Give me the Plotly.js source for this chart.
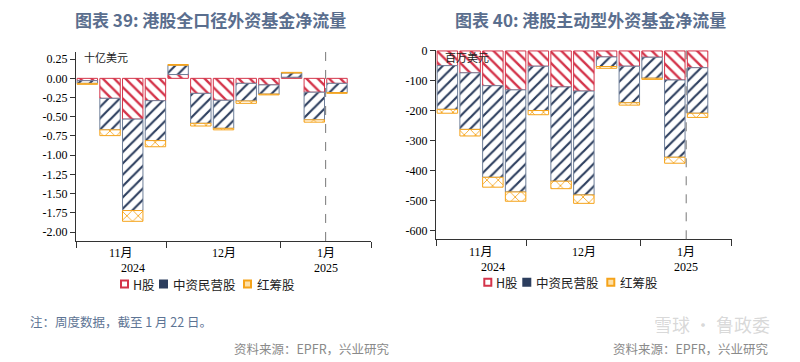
<!DOCTYPE html>
<html><head><meta charset="utf-8">
<script src="https://cdn.plot.ly/plotly-3.0.1.min.js"></script>
<style>html,body{margin:0;padding:0;background:#fff}#chart{width:800px;height:362px}</style>
</head><body><div id="chart"></div>
<script>
// ---- data ----
const weeks = [0, 1, 2, 3, 4, 5, 6, 7, 8, 9, 10, 11];
const seriesNames = ['H股', '中资民营股', '红筹股'];

// 图表39 全口径 (十亿美元)
const hAll = [-0.03, -0.26, -0.53, -0.29, 0.05, -0.195, -0.285, -0.065, -0.085, 0.015, -0.18, -0.065];
const mAll = [-0.035, -0.41, -1.19, -0.52, 0.12, -0.39, -0.365, -0.23, -0.12, 0.055, -0.36, -0.12];
const rAll = [-0.013, -0.075, -0.14, -0.08, 0.01, -0.035, -0.02, -0.03, -0.01, 0.008, -0.03, -0.01];

// 图表40 主动型 (百万美元)
const hAct = [-49, -73, -116, -130, -51, -120, -134, -20, -51, -21, -97, -56];
const mAct = [-146, -189, -306, -341, -148, -315, -347, -32, -122, -70, -258, -152];
const rAct = [-13, -22, -33, -31, -14, -25, -28, -6, -8, -4, -20, -14];

const monthLabels = ['11月', '12月', '1月'];
const monthCenters = [1.5, 6, 10.5];
const yearLabels = ['2024', '2025'];
const yearCenters = [2.0, 10.5];
const monthBounds = [-0.5, 3.5, 8.5, 12.5];
const latestDivider = 10.5;
const leftTicks = [0.25, 0, -0.25, -0.5, -0.75, -1, -1.25, -1.5, -1.75, -2];
const rightTicks = [0, -100, -200, -300, -400, -500, -600];

const titles = ['图表 39: 港股全口径外资基金净流量', '图表 40: 港股主动型外资基金净流量'];
const units = ['十亿美元', '百万美元'];
const note = '注：周度数据，截至 1 月 22 日。';
const source = '资料来源：EPFR，兴业研究';

// ---- styles ----
const RED = '#d4344a', NAVY = '#2c3e5e', NAVYLINE = '#6f7f99', ORANGE = '#f5a31a';
const serif = 'Liberation Serif, "Noto Sans CJK SC", serif';
const cjk = '"Noto Sans CJK SC", sans-serif';

function bar(name, y, color, lineColor, shape, size, sol, xa, ya) {
  return {
    type: 'bar', x: weeks, y: y, name: name, xaxis: xa, yaxis: ya, width: 0.9,
    showlegend: false, hoverinfo: 'skip',
    marker: {
      color: color, line: {color: lineColor, width: 1},
      pattern: {shape: shape, fgcolor: color, bgcolor: '#ffffff', size: size, solidity: sol, fillmode: 'replace'}
    }
  };
}

const data = [
  bar(seriesNames[0], hAll, RED, RED, '\\', 8, 0.3, 'x', 'y'),
  bar(seriesNames[1], mAll, NAVY, NAVYLINE, '/', 8, 0.27, 'x', 'y'),
  bar(seriesNames[2], rAll, ORANGE, ORANGE, 'x', 8, 0.2, 'x', 'y'),
  bar(seriesNames[0], hAct, RED, RED, '\\', 8, 0.3, 'x2', 'y2'),
  bar(seriesNames[1], mAct, NAVY, NAVYLINE, '/', 8, 0.27, 'x2', 'y2'),
  bar(seriesNames[2], rAct, ORANGE, ORANGE, 'x', 8, 0.2, 'x2', 'y2')
];

const axBase = {
  showline: true, linecolor: '#333', linewidth: 1, ticks: 'outside', tickcolor: '#333',
  showgrid: false, zeroline: false, fixedrange: true,
  tickfont: {family: serif, size: 12, color: '#000'}
};
const xBase = Object.assign({}, axBase, {
  range: [-0.5, 12.5], tickmode: 'array', tickvals: monthBounds,
  ticktext: monthBounds.map(() => ''), ticklen: 6
});
function fmtLeft(v) { return v.toFixed(2); }

const layout = {
  width: 800, height: 362, margin: {l: 0, r: 0, t: 0, b: 0},
  paper_bgcolor: '#fff', plot_bgcolor: '#fff',
  barmode: 'relative', showlegend: false,
  xaxis: Object.assign({}, xBase, {domain: [0.095, 0.4638], anchor: 'y'}),
  yaxis: Object.assign({}, axBase, {
    domain: [0.3343, 0.857], anchor: 'x', range: [-2.116, 0.346], ticklen: 5,
    tickmode: 'array', tickvals: leftTicks, ticktext: leftTicks.map(fmtLeft)
  }),
  xaxis2: Object.assign({}, xBase, {domain: [0.545, 0.9146], anchor: 'y2'}),
  yaxis2: Object.assign({}, axBase, {
    domain: [0.339, 0.862], anchor: 'x2', range: [-629, 3.3], ticklen: 5,
    tickmode: 'array', tickvals: rightTicks, ticktext: rightTicks.map(v => String(v))
  }),
  shapes: [], annotations: []
};

// dashed divider before latest week
['x', 'x2'].forEach((xa, i) => {
  layout.shapes.push({type: 'line', xref: xa, yref: (i ? 'y2' : 'y') + ' domain',
    x0: latestDivider, x1: latestDivider, y0: 0, y1: 1,
    line: {color: '#777', width: 1, dash: 'dash'}});
});

// titles
[210, 590].forEach((cx, i) => {
  layout.annotations.push({xref: 'paper', yref: 'paper', x: cx / 800, y: 1 - 19 / 362,
    xanchor: 'center', yanchor: 'middle', showarrow: false, text: titles[i],
    font: {family: cjk, size: 17, color: '#5a6e8e', weight: 'bold'}});
});

// unit labels
[82, 443].forEach((px, i) => {
  layout.annotations.push({xref: 'paper', yref: 'paper', x: px / 800, y: 1 - 57 / 362,
    xanchor: 'left', yanchor: 'middle', showarrow: false, text: units[i],
    font: {family: cjk, size: 11, color: '#222'}});
});

// month and year labels
[['x', 253, 268], ['x2', 251.7, 266.7]].forEach(([xa, my, yy]) => {
  monthLabels.forEach((m, k) => layout.annotations.push({xref: xa, yref: 'paper',
    x: monthCenters[k], y: 1 - my / 362, xanchor: 'center', yanchor: 'middle', showarrow: false,
    text: m, font: {family: serif, size: 12, color: '#000'}}));
  yearLabels.forEach((t, k) => layout.annotations.push({xref: xa, yref: 'paper',
    x: yearCenters[k], y: 1 - yy / 362, xanchor: 'center', yanchor: 'middle', showarrow: false,
    text: t, font: {family: serif, size: 12, color: '#000'}}));
});

// legends (one per chart)
const legColors = [[RED, '#ffffff'], [NAVY, NAVY], [ORANGE, '#fde0a8']];
const sqOff = [0, 39, 123], txtOff = [10, 50, 133.5];
[[121, 284], [484.3, 282.3]].forEach(([lx, ly]) => {
  seriesNames.forEach((nm, k) => {
    const x0 = lx + sqOff[k];
    layout.shapes.push({type: 'rect', xref: 'paper', yref: 'paper',
      x0: x0 / 800, x1: (x0 + 7) / 800, y0: 1 - (ly + 3.5) / 362, y1: 1 - (ly - 3.5) / 362,
      line: {color: legColors[k][0], width: 2}, fillcolor: legColors[k][1]});
    layout.annotations.push({xref: 'paper', yref: 'paper', x: (lx + txtOff[k]) / 800,
      y: 1 - ly / 362, xanchor: 'left', yanchor: 'middle', showarrow: false, text: nm,
      font: {family: cjk, size: 12.5, color: '#222'}});
  });
});

// note & sources
layout.annotations.push({xref: 'paper', yref: 'paper', x: 28 / 800, y: 1 - 321 / 362,
  xanchor: 'left', yanchor: 'middle', showarrow: false, text: note,
  font: {family: cjk, size: 12.5, color: '#5d7494'}});
[233, 612].forEach(px => layout.annotations.push({xref: 'paper', yref: 'paper',
  x: px / 800, y: 1 - 348 / 362, xanchor: 'left', yanchor: 'middle', showarrow: false,
  text: source, borderpad: 0, font: {family: cjk, size: 12.5, color: '#8a8a8a'}}));
// watermark
layout.annotations.push({xref: 'paper', yref: 'paper', x: 712 / 800, y: 1 - 324 / 362,
  xanchor: 'center', yanchor: 'middle', showarrow: false, text: '雪球 · 鲁政委', borderpad: 0,
  font: {family: cjk, size: 18, color: 'rgba(170,170,170,0.45)'}});

Plotly.newPlot('chart', data, layout, {staticPlot: true, displayModeBar: false});
</script>
</body></html>
